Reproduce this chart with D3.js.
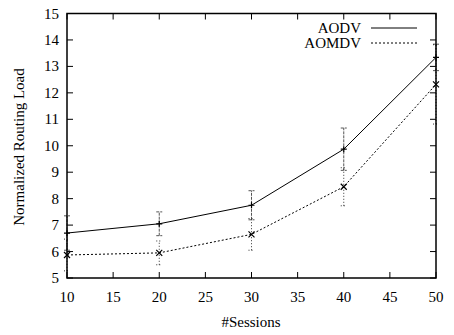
<!DOCTYPE html>
<html lang="en">
<head>
<meta charset="UTF-8">
<title>Normalized Routing Load</title>
<script src="https://d3js.org/d3.v7.min.js"></script>
<style>
  body { margin: 0; background: #fff; }
  svg { display: block; }
</style>
</head>
<body>
<svg id="chart" width="454" height="335" font-family="'Liberation Serif', 'Times New Roman', 'DejaVu Serif', serif"></svg>
<script>
// data
const sessions = [10, 20, 30, 40, 50];
const aodv     = [6.70, 7.05, 7.75, 9.87, 13.34];
const aodvErr  = [0.65, 0.45, 0.55, 0.80, 0.50];
const aomdv    = [5.87, 5.95, 6.65, 8.45, 12.32];
const aomdvErr = [0.60, 0.45, 0.60, 0.72, 1.50];
const xTicks = [10, 15, 20, 25, 30, 35, 40, 45, 50];
const yTicks = [5, 6, 7, 8, 9, 10, 11, 12, 13, 14, 15];

const svg = d3.select("#chart");
const m = { left: 67, right: 436, top: 13.5, bottom: 278 };
const fs = 15;

const x = d3.scaleLinear().domain([10, 50]).range([m.left, m.right]);
const y = d3.scaleLinear().domain([5, 15]).range([m.bottom, m.top]);

const tickLen = 6;

// ticks on all four sides, pointing inward
const g = svg.append("g");
xTicks.forEach(t => {
    g.append("line").attr("x1", x(t)).attr("x2", x(t))
        .attr("y1", m.bottom).attr("y2", m.bottom - tickLen)
        .attr("stroke", "#000").attr("stroke-width", 1);
    g.append("line").attr("x1", x(t)).attr("x2", x(t))
        .attr("y1", m.top).attr("y2", m.top + tickLen)
        .attr("stroke", "#000").attr("stroke-width", 1);
    g.append("text").attr("x", x(t)).attr("y", 302)
        .attr("text-anchor", "middle").attr("font-size", fs).text(t);
});
yTicks.forEach(t => {
    g.append("line").attr("x1", m.left).attr("x2", m.left + tickLen)
        .attr("y1", y(t)).attr("y2", y(t))
        .attr("stroke", "#000").attr("stroke-width", 1);
    g.append("line").attr("x1", m.right).attr("x2", m.right - tickLen)
        .attr("y1", y(t)).attr("y2", y(t))
        .attr("stroke", "#000").attr("stroke-width", 1);
    g.append("text").attr("x", 59).attr("y", y(t) + 5)
        .attr("text-anchor", "end").attr("font-size", fs).text(t);
});

// axis labels
svg.append("text").attr("x", 251).attr("y", 327)
    .attr("text-anchor", "middle").attr("font-size", fs).text("#Sessions");
svg.append("text")
    .attr("transform", "translate(24,147) rotate(-90)")
    .attr("text-anchor", "middle").attr("font-size", fs)
    .text("Normalized Routing Load");

function drawSeries(vals, errs, dash, barDash, barColor, marker) {
    const pts = sessions.map((s, i) => ({ s, v: vals[i], e: errs[i] }));
    const cap = 3;
    pts.forEach(d => {
        const bx = x(d.s);
        svg.append("line").attr("x1", bx).attr("x2", bx)
            .attr("y1", y(d.v - d.e)).attr("y2", y(d.v + d.e))
            .attr("stroke", barColor).attr("stroke-width", 1)
            .attr("stroke-dasharray", barDash);
        [d.v - d.e, d.v + d.e].forEach(c => {
            svg.append("line").attr("x1", bx - cap).attr("x2", bx + cap)
                .attr("y1", y(c)).attr("y2", y(c))
                .attr("stroke", barColor).attr("stroke-width", 1)
                .attr("stroke-dasharray", barDash);
        });
    });
    svg.append("path").datum(pts)
        .attr("d", d3.line().x(d => x(d.s)).y(d => y(d.v)))
        .attr("fill", "none").attr("stroke", "#000").attr("stroke-width", 1)
        .attr("stroke-dasharray", dash);
    pts.forEach(d => {
        const px = x(d.s), py = y(d.v), r = 3;
        if (marker === "+") {
            svg.append("path").attr("d", `M${px - r},${py}H${px + r}M${px},${py - r}V${py + r}`)
                .attr("stroke", "#000").attr("stroke-width", 1.2);
        } else {
            svg.append("path").attr("d", `M${px - r},${py - r}L${px + r},${py + r}M${px - r},${py + r}L${px + r},${py - r}`)
                .attr("stroke", "#000").attr("stroke-width", 1.2);
        }
    });
}

drawSeries(aodv, aodvErr, null, "3,1", "#555", "+");
drawSeries(aomdv, aomdvErr, "2,2", "1,2", "#333", "x");

// frame
svg.append("rect").attr("x", m.left).attr("y", m.top)
    .attr("width", m.right - m.left).attr("height", m.bottom - m.top)
    .attr("fill", "none").attr("stroke", "#000").attr("stroke-width", 1.5);

// legend
const legend = [
    { name: "AODV", dash: null, y: 28 },
    { name: "AOMDV", dash: "2,2", y: 43 }
];
legend.forEach(l => {
    svg.append("text").attr("x", 361).attr("y", l.y + 5)
        .attr("text-anchor", "end").attr("font-size", fs).text(l.name);
    svg.append("line").attr("x1", 371).attr("x2", 417)
        .attr("y1", l.y).attr("y2", l.y)
        .attr("stroke", "#000").attr("stroke-width", 1)
        .attr("stroke-dasharray", l.dash);
});
</script>
</body>
</html>
